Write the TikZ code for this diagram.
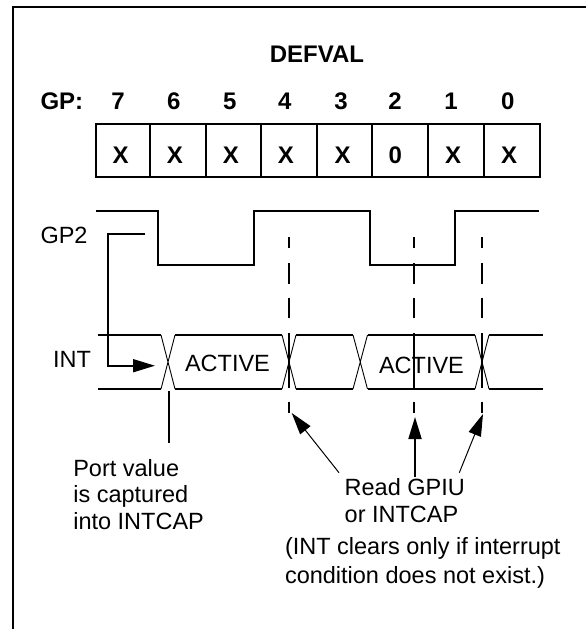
\documentclass[tikz,border=0pt]{standalone}
\usepackage{fontspec}
\setmainfont{Liberation Sans}
\usetikzlibrary{arrows.meta}
\tikzset{
  lbl/.style={anchor=base west,inner sep=0pt,outer sep=0pt,font=\fontsize{23.5}{26}\selectfont},
  bld/.style={anchor=base,inner sep=0pt,outer sep=0pt,font=\fontsize{24}{26}\selectfont\bfseries},
  frameline/.style={line width=1.9pt},
  wave/.style={line width=1.8pt},
  thin cross/.style={line width=0.9pt},
  drop/.style={line width=1.8pt,dash pattern=on 11pt off 15pt on 21pt off 14pt on 20pt off 15pt on 55pt off 14pt on 11pt},
  tipped/.style={-{Triangle[length=22pt,width=13pt]}}
}
\begin{document}
\begin{tikzpicture}[x=1pt,y=-1pt]
\useasboundingbox (0,0) rectangle (586,629);
\fill[white] (0,0) rectangle (586,629);
% frame
\coordinate (fb) at (13,629); \coordinate (ft) at (13,6.7); \coordinate (fr) at (586,6.7);
\draw[frameline] (fb) -- (ft) -- (fr);
% register
\draw[frameline] (96,124) rectangle (540.3,176.7);
\foreach \x in {150,206,261,317,372,428,484}{\draw[line width=1.7pt] (\x,124) -- (\x,176.7);}
\node[bld] (title) at (317,62) {DEFVAL};
\node[bld,anchor=base west] (gp) at (40.5,109) {GP:};
\foreach \x/\t in {118/7,173.7/6,229.7/5,284.7/4,341/3,395/2,451/1,507.7/0}{\node[bld] (d\t) at (\x,109) {\t};}
\foreach \x/\t/\n in {120.7/X/a,175/X/b,231/X/c,286/X/d,342.7/X/e,395.3/0/f,453/X/g,509/X/h}{\node[bld] (r\n) at (\x,163) {\t};}
% GP2 waveform
\draw[wave] (96,210.7) -- (158,210.7) -- (158,264.7) -- (254,264.7) -- (254,210.7) -- (370,210.7) -- (370,264.7) -- (455,264.7) -- (455,210.7) -- (539,210.7);
% INT waveform
\draw[wave] (98,335) -- (161,335) (98,389) -- (161,389);
\draw[wave] (175,335) -- (282,335) (175,389) -- (282,389);
\draw[wave] (296,335) -- (353,335) (296,389) -- (353,389);
\draw[wave] (367.5,335) -- (475,335) (367.5,389) -- (475,389);
\draw[wave] (489,335) -- (543,335) (489,389) -- (543,389);
\foreach \a/\b in {161/175,282/296,353/367.5,475/489}{
  \draw[thin cross] (\a,335) -- (\b,389) (\b,335) -- (\a,389);
}
% labels
\node[lbl] (gp2) at (40.5,243) {GP2};
\node[lbl] (int) at (53,367) {INT};
\node[lbl] (act1) at (185,371) {ACTIVE};
\node[lbl] (act2) at (379,373) {ACTIVE};
% dashed drops
\foreach \n/\x in {p/289,q/414,s/482}{
  \coordinate (\n t) at (\x,237); \coordinate (\n b) at (\x,413);
  \draw[drop] (\n t) -- (\n b);
}
% GP2 to INT arrow
\coordinate (ga) at (145,233.7); \coordinate (gb) at (108,233.7); \coordinate (gc) at (108,365.7); \coordinate (gd) at (155,365.7);
\draw[line width=1.7pt,tipped] (ga) -- (gb) -- (gc) -- (gd);
% capture line
\coordinate (ca) at (169,391); \coordinate (cb) at (169,443);
\draw[line width=1.7pt] (ca) -- (cb);
\node[lbl] (port1) at (73.3,476) {Port value};
\node[lbl] (port2) at (73.3,502) {is captured};
\node[lbl] (port3) at (73.3,529) {into INTCAP};
% read arrows
\coordinate (la) at (339,472.7); \coordinate (lb) at (291.7,413);
\coordinate (ma) at (415,477); \coordinate (mb) at (415,417);
\coordinate (na) at (459.3,472.7); \coordinate (nb) at (483,414);
\draw[line width=1pt,tipped] (la) -- (lb);
\draw[line width=1.8pt,tipped] (ma) -- (mb);
\draw[line width=1pt,tipped] (na) -- (nb);
\node[lbl] (read1) at (344.7,495) {Read GPIU};
\node[lbl] (read2) at (344.7,522) {or INTCAP};
\node[lbl] (note1) at (285,554) {(INT clears only if interrupt};
\node[lbl] (note2) at (285,583) {condition does not exist.)};
\end{tikzpicture}
\end{document}
